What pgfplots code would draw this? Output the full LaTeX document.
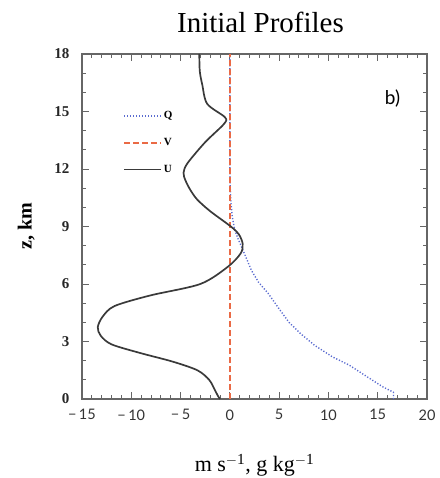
\documentclass[border=0pt]{standalone}
\usepackage{pgfplots}
\pgfplotsset{compat=1.18}
\usepackage{fontspec}
\setmainfont{Liberation Serif}
\newfontfamily\tickfont{Lato}
\definecolor{qcol}{HTML}{5A6BD0}
\definecolor{vcol}{HTML}{EA6A45}
\definecolor{ucol}{HTML}{3A3A3A}
\definecolor{axcol}{HTML}{666666}
\begin{document}
\begin{tikzpicture}
\begin{axis}[
  at={(0pt,0pt)}, anchor=south west,
  scale only axis, width=345pt, height=345pt,
  xmin=-15, xmax=20, ymin=0, ymax=18,
  xtick={-15,-10,...,20}, ytick={0,3,...,18},
  xticklabels={−\,15,−\,10,−\,5,0,5,10,15,20},
  minor x tick num=4, minor y tick num=2,
  tick align=inside,
  major tick length=7pt, minor tick length=4pt,
  every tick/.style={axcol, line width=0.9pt},
  axis line style={axcol, line width=1.3pt},
  /pgf/number format/assume math mode=true,
  xticklabel style={font=\tickfont\fontsize{14.5}{14.5}\selectfont, text=black!80, yshift=-7pt},
  yticklabel style={font=\bfseries\fontsize{15}{15}\selectfont, text=black!85, xshift=-9pt},
  title={Initial Profiles},
  title style={font=\fontsize{29}{29}\selectfont, yshift=12pt, xshift=6pt},
  xlabel={m s$^{\mathrm{-1}}$, g kg$^{\mathrm{-1}}$},
  ylabel={z, km},
  xlabel style={font=\fontsize{22}{22}\selectfont, yshift=-27pt},
  ylabel style={font=\bfseries\fontsize{20}{20}\selectfont, yshift=13pt},
  legend style={at={(axis description cs:0.11,0.845)}, anchor=north west, draw=none, fill=none,
    font=\bfseries\fontsize{11}{11}\selectfont, row sep=14pt},
  legend cell align=left,
  legend image code/.code={\draw[#1] (0pt,0pt) -- (37pt,0pt);},
]
\addlegendimage{qcol, line width=1.4pt, dash pattern=on 1.2pt off 1.8pt}
\addlegendentry{Q}
\addlegendimage{vcol, line width=1.6pt, dash pattern=on 6pt off 3pt}
\addlegendentry{V}
\addlegendimage{ucol, line width=1.8pt}
\addlegendentry{U}
\addplot[forget plot, qcol, line width=1.4pt, dash pattern=on 1.2pt off 1.8pt] coordinates {
(16.6,0) (16.6,0.35) (15.5,0.64) (13.8,1.2) (12.1,1.77) (10.4,2.2) (8.6,2.8) (7.2,3.4) (6.0,4.0) (5.0,4.7) (3.9,5.5) (2.9,6.1) (2.2,6.7) (1.3,7.8) (0.8,8.4) (0.5,8.8) (0.25,9.5) (0.1,10.3) (0.04,11) (0,12) (0,18)
};
\addplot[forget plot, vcol, line width=1.5pt, dash pattern=on 6pt off 3pt] coordinates {(0,0) (0,18)};
\addplot[forget plot, ucol, line width=1.7pt, smooth, tension=0.5] coordinates {
(-1.0,0) (-1.2,0.15) (-1.5,0.45) (-2.1,1.0) (-3.3,1.5) (-5.8,1.95) (-9.1,2.4) (-12.0,2.85) (-13.1,3.3) (-13.4,3.75) (-12.9,4.3) (-11.7,4.85) (-8.1,5.4) (-3.0,6.0) (-0.2,6.9) (1.1,7.6) (1.3,8.1) (0.9,8.6) (0.1,9.0) (-2.0,9.8) (-3.3,10.4) (-4.0,10.9) (-4.5,11.4) (-4.7,11.8) (-4.3,12.3) (-2.5,13.4) (-0.6,14.35) (-0.5,14.7) (-2.3,15.4) (-2.8,16.4) (-3.05,17.1) (-3.1,18)
};
\node[font=\tickfont\fontsize{19}{19}\selectfont] at (axis cs:16.5,15.7) {b)};
\end{axis}
\pgfresetboundingbox
\path[use as bounding box] (-82pt,-79pt) rectangle (357pt,399pt);
\end{tikzpicture}
\end{document}
